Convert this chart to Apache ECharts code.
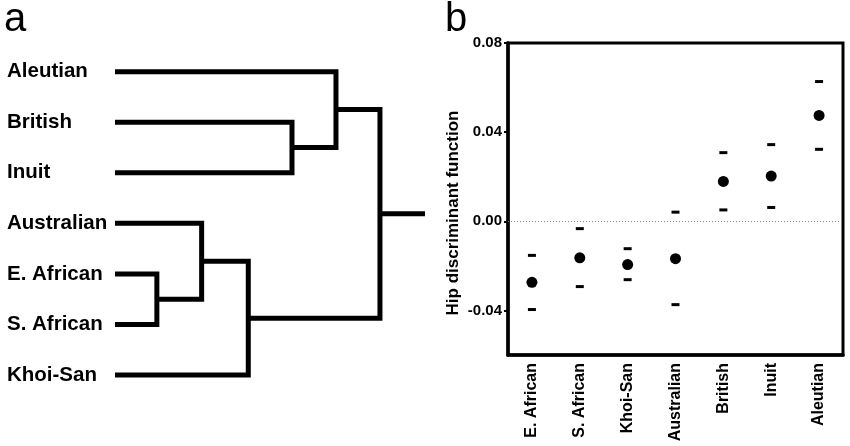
<!DOCTYPE html>
<html>
<head>
<meta charset="utf-8">
<script src="https://cdn.jsdelivr.net/npm/echarts@6/dist/echarts.min.js"></script>
<style>html,body{margin:0;padding:0;background:#fff}#c{width:850px;height:446px}</style>
</head>
<body>
<div id="c"></div>
<script>
// ---- Panel a: dendrogram ----
const dendroLeaves = ["Aleutian", "British", "Inuit", "Australian", "E. African", "S. African", "Khoi-San"];
// merges: [child A, child B, merge height]; internal nodes named n0, n1, ...
const dendroMerges = [
  ["British", "Inuit", 0.668],
  ["Aleutian", "n0", 0.834],
  ["E. African", "S. African", 0.158],
  ["Australian", "n2", 0.327],
  ["n3", "Khoi-San", 0.503],
  ["n1", "n4", 1.0]
];
const dendroRootStub = 1.17;

// ---- Panel b: hip discriminant function ----
const groups = ["E. African", "S. African", "Khoi-San", "Australian", "British", "Inuit", "Aleutian"];
const meanValues = [-0.0274, -0.0164, -0.0194, -0.0168, 0.0179, 0.0203, 0.0475];
const upperValues = [-0.0153, -0.0033, -0.0123, 0.0041, 0.0308, 0.0344, 0.0627];
const lowerValues = [-0.0396, -0.0293, -0.0262, -0.0374, 0.0051, 0.0062, 0.0323];
const yTickValues = [-0.04, 0.00, 0.04, 0.08];

// build node positions
const nodePos = {};
dendroLeaves.forEach((n, i) => { nodePos[n] = { h: 0, y: i }; });
const bracketData = [];
dendroMerges.forEach((m, i) => {
  const a = nodePos[m[0]], b = nodePos[m[1]];
  nodePos['n' + i] = { h: m[2], y: (a.y + b.y) / 2 };
  bracketData.push([a.h, a.y, b.h, b.y, m[2]]);
});
const root = nodePos['n' + (dendroMerges.length - 1)];

const FONT = '"Liberation Sans", Arial, sans-serif';
const chart = echarts.init(document.getElementById('c'), null, { renderer: 'canvas' });

chart.setOption({
  animation: false,
  backgroundColor: '#ffffff',
  grid: [
    { left: 115, width: 310, top: 71.7, height: 303.3, containLabel: false },
    { left: 508, width: 335, top: 43, height: 312, show: true, borderColor: '#000', borderWidth: 3, containLabel: false }
  ],
  xAxis: [
    { gridIndex: 0, type: 'value', min: 0, max: dendroRootStub, show: false },
    {
      gridIndex: 1, type: 'category', data: groups, boundaryGap: true,
      axisLine: { onZero: false, lineStyle: { color: '#000', width: 3.5 } },
      axisTick: { show: false },
      axisLabel: { rotate: 90, margin: 8, color: '#000', fontFamily: FONT, fontWeight: 'bold', fontSize: 16 }
    }
  ],
  yAxis: [
    {
      gridIndex: 0, type: 'value', min: 0, max: 6, interval: 1, inverse: true,
      axisLine: { show: false }, axisTick: { show: false }, splitLine: { show: false },
      axisLabel: {
        align: 'left', margin: 108, color: '#000', fontFamily: FONT, fontWeight: 'bold', fontSize: 20.5,
        formatter: v => dendroLeaves[v] || ''
      }
    },
    {
      gridIndex: 1, type: 'value', min: -0.06, max: 0.08,
      splitLine: { show: false },
      axisLine: { show: true, onZero: false, lineStyle: { color: '#000', width: 3.5 } },
      axisTick: { show: true, customValues: yTickValues, length: 4, lineStyle: { color: '#000', width: 2 } },
      axisLabel: {
        customValues: yTickValues, margin: 6, color: '#000', fontFamily: FONT, fontWeight: 'bold', fontSize: 15,
        formatter: v => v.toFixed(2)
      }
    }
  ],
  graphic: [
    { type: 'text', left: 4, top: 0, style: { text: 'a', font: '40px ' + FONT, fill: '#000' } },
    { type: 'text', left: 445, top: 0, style: { text: 'b', font: '40px ' + FONT, fill: '#000' } },
    {
      type: 'text', x: 453, y: 213, rotation: Math.PI / 2,
      style: { text: 'Hip discriminant function', font: 'bold 17px ' + FONT, fill: '#000', align: 'center', verticalAlign: 'middle' }
    }
  ],
  series: [
    {
      type: 'custom', xAxisIndex: 0, yAxisIndex: 0, data: bracketData,
      renderItem: (params, api) => {
        const hA = api.value(0), yA = api.value(1), hB = api.value(2), yB = api.value(3), H = api.value(4);
        const pts = [api.coord([hA, yA]), api.coord([H, yA]), api.coord([H, yB]), api.coord([hB, yB])];
        return {
          type: 'polyline',
          shape: { points: pts },
          style: { stroke: '#000', lineWidth: 5, fill: null, lineJoin: 'miter', lineCap: 'butt' }
        };
      }
    },
    {
      type: 'line', xAxisIndex: 0, yAxisIndex: 0, symbol: 'none',
      data: [[root.h, root.y], [dendroRootStub, root.y]],
      lineStyle: { color: '#000', width: 5, cap: 'butt' }
    },
    {
      type: 'scatter', xAxisIndex: 1, yAxisIndex: 1, data: upperValues, z: 3,
      symbol: 'rect', symbolSize: [8, 3], itemStyle: { color: '#000', opacity: 1 }
    },
    {
      type: 'scatter', xAxisIndex: 1, yAxisIndex: 1, data: lowerValues, z: 3,
      symbol: 'rect', symbolSize: [8, 3], itemStyle: { color: '#000', opacity: 1 }
    },
    {
      type: 'scatter', xAxisIndex: 1, yAxisIndex: 1, data: meanValues, z: 3,
      symbol: 'circle', symbolSize: 11, itemStyle: { color: '#000', opacity: 1 },
      markLine: {
        silent: true, symbol: 'none', label: { show: false }, z: 1,
        lineStyle: { color: '#888', type: [1, 2], width: 1, opacity: 1 },
        emphasis: { disabled: true },
        data: [{ yAxis: 0 }]
      }
    }
  ]
});
</script>
</body>
</html>
